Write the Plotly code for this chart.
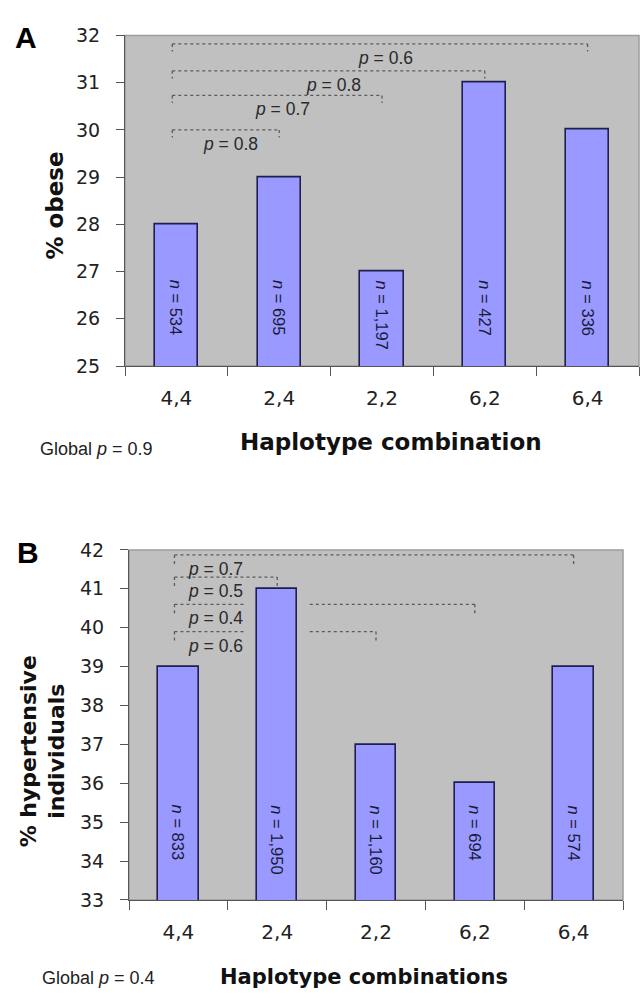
import plotly.graph_objects as go

# ---------------- data ----------------
categories = ["4,4", "2,4", "2,2", "6,2", "6,4"]

obese_pct = [28, 29, 27, 31, 30]
obese_n = ["534", "695", "1,197", "427", "336"]
obese_comparisons = [("4,4", "6,4"), ("4,4", "6,2"), ("4,4", "2,2"), ("4,4", "2,4")]
obese_p = ["0.6", "0.8", "0.7", "0.8"]
obese_levels = [31.82, 31.25, 30.73, 30.0]
obese_global_p = "0.9"

hyper_pct = [39, 41, 37, 36, 39]
hyper_n = ["833", "1,950", "1,160", "694", "574"]
hyper_comparisons = [("4,4", "6,4"), ("4,4", "2,4"), ("4,4", "6,2"), ("4,4", "2,2")]
hyper_p = ["0.7", "0.5", "0.4", "0.6"]
hyper_levels = [41.87, 41.3, 40.6, 39.9]
hyper_global_p = "0.4"

# ---------------- layout constants ----------------
W, H = 641, 1000
BAR_FILL = "#9999FF"
BAR_LINE = "#1E1E50"
BG = "#C0C0C0"
TICK_FONT = "DejaVu Sans"
ARIAL = "Liberation Sans"


def px(x):
    return x / W


def py(y):
    return 1 - y / H


fig = go.Figure()

fig.add_trace(go.Bar(x=categories, y=obese_pct, xaxis="x", yaxis="y",
                     marker=dict(color=BAR_FILL, line=dict(color=BAR_LINE, width=1.6)),
                     width=0.42, showlegend=False, hoverinfo="x+y"))
fig.add_trace(go.Bar(x=categories, y=hyper_pct, xaxis="x2", yaxis="y2",
                     marker=dict(color=BAR_FILL, line=dict(color=BAR_LINE, width=1.6)),
                     width=0.41, showlegend=False, hoverinfo="x+y"))

xcommon = dict(type="category", showgrid=False, showline=True, linecolor="#555555",
               linewidth=1.2, ticks="outside", tickson="boundaries", ticklen=9,
               tickcolor="#555555", tickfont=dict(family=TICK_FONT, size=20, color="#222222"),
               ticklabelstandoff=14, zeroline=False, fixedrange=True)
ycommon = dict(showgrid=False, showline=True, linecolor="#555555", linewidth=1.2,
               ticks="outside", ticklen=8, tickcolor="#555555", dtick=1,
               tickfont=dict(family=TICK_FONT, size=19, color="#222222"),
               ticklabelstandoff=12, zeroline=False, fixedrange=True)

fig.update_layout(
    width=W, height=H,
    margin=dict(l=0, r=0, t=0, b=0),
    paper_bgcolor="white", plot_bgcolor=BG,
    bargap=0,
    xaxis=dict(domain=[px(125), px(639)], anchor="y", **xcommon),
    yaxis=dict(domain=[py(363), py(25)], anchor="x", range=[25, 32], **ycommon),
    xaxis2=dict(domain=[px(129), px(623)], anchor="y2", **xcommon),
    yaxis2=dict(domain=[py(909), py(551)], anchor="x2", range=[33, 42], **ycommon),
)

shapes = []
annotations = []

# plot frame edges (top/right slightly darker)
for xr, yr in (("x", "y"), ("x2", "y2")):
    shapes.append(dict(type="rect", xref=f"{xr} domain", yref=f"{yr} domain",
                       x0=0, x1=1, y0=0, y1=1, line=dict(color="#9C9C9C", width=1.5),
                       layer="below"))


def add_brackets(xr, yr, comps, pvals, levels, values, drop, label_mode):
    idx = {c: i for i, c in enumerate(categories)}
    for (a, b), p, lvl in zip(comps, pvals, levels):
        x0 = idx[a] - 0.04
        x1 = idx[b]
        # split around taller bars that would cross the bracket
        cuts = []
        for i, v in enumerate(values):
            if x0 < i < x1 and v > lvl:
                cuts.append((i - 0.33, i + 0.33))
        segs = []
        start = x0
        for c0, c1 in cuts:
            segs.append((start, c0))
            start = c1
        segs.append((start, x1))
        line = dict(color="#5A5A5A", width=1.3, dash="dot")
        for s0, s1 in segs:
            shapes.append(dict(type="line", xref=xr, yref=yr, x0=s0, x1=s1, y0=lvl, y1=lvl, line=line))
        shapes.append(dict(type="line", xref=xr, yref=yr, x0=x0, x1=x0, y0=lvl, y1=lvl - drop, line=line))
        shapes.append(dict(type="line", xref=xr, yref=yr, x0=x1, x1=x1, y0=lvl, y1=lvl - drop, line=line))
        if label_mode == "mid":
            ax, xanchor = (x0 + x1) / 2 + 0.05, "center"
        else:
            ax, xanchor = x0 + 0.12, "left"
        annotations.append(dict(xref=xr, yref=yr, x=ax, y=lvl, yshift=-14, xanchor=xanchor,
                                yanchor="middle", showarrow=False,
                                text=f"<i>p</i> = {p}",
                                font=dict(family=ARIAL, size=17.5, color="#2A2A2A")))


add_brackets("x", "y", obese_comparisons, obese_p, obese_levels, obese_pct, 0.16, "mid")
add_brackets("x2", "y2", hyper_comparisons, hyper_p, hyper_levels, hyper_pct, 0.28, "left")

# n labels inside bars
for xr, yr, ns, ystart in (("x", "y", obese_n, 0.266), ("x2", "y2", hyper_n, 0.277)):
    for i, n in enumerate(ns):
        annotations.append(dict(xref=xr, yref=f"{yr} domain", x=i, y=ystart,
                                xanchor="center", yanchor="top", textangle=90,
                                showarrow=False, text=f"<i>n</i> = {n}",
                                font=dict(family=ARIAL, size=16.5, color="#1A1A3A")))

# panel letters
annotations.append(dict(xref="paper", yref="paper", x=px(13), y=py(27), xanchor="left",
                        yanchor="middle", showarrow=False, text="<b>A</b>",
                        font=dict(family=ARIAL, size=30, color="black")))
annotations.append(dict(xref="paper", yref="paper", x=px(15), y=py(554), xanchor="left",
                        yanchor="middle", showarrow=False, text="<b>B</b>",
                        font=dict(family=ARIAL, size=30, color="black")))

# axis titles
annotations.append(dict(xref="paper", yref="paper", x=px(391), y=py(441), xanchor="center",
                        yanchor="middle", showarrow=False, text="<b>Haplotype combination</b>",
                        font=dict(family=TICK_FONT, size=23, color="#111111")))
annotations.append(dict(xref="paper", yref="paper", x=px(364), y=py(988), xanchor="center",
                        yanchor="middle", showarrow=False, text="<b>Haplotype combinations</b>",
                        font=dict(family=TICK_FONT, size=21, color="#111111")))
annotations.append(dict(xref="paper", yref="paper", x=px(55), y=py(199), xanchor="center",
                        yanchor="middle", textangle=-90, showarrow=False, text="<b>% obese</b>",
                        font=dict(family=TICK_FONT, size=23, color="#111111")))
annotations.append(dict(xref="paper", yref="paper", x=px(43), y=py(757), xanchor="center",
                        yanchor="middle", textangle=-90, showarrow=False,
                        text="<b>% hypertensive<br>individuals</b>",
                        font=dict(family=TICK_FONT, size=22, color="#111111")))

# global p
annotations.append(dict(xref="paper", yref="paper", x=px(38), y=py(448), xanchor="left",
                        yanchor="middle", showarrow=False,
                        text=f"Global <i>p</i> = {obese_global_p}",
                        font=dict(family=ARIAL, size=18, color="#222222")))
annotations.append(dict(xref="paper", yref="paper", x=px(40), y=py(989), xanchor="left",
                        yanchor="middle", showarrow=False,
                        text=f"Global <i>p</i> = {hyper_global_p}",
                        font=dict(family=ARIAL, size=18, color="#222222")))

fig.update_layout(shapes=shapes, annotations=annotations)
fig.write_html("out.html", config={"displayModeBar": False},
               post_script="document.body.style.margin='0px';")
